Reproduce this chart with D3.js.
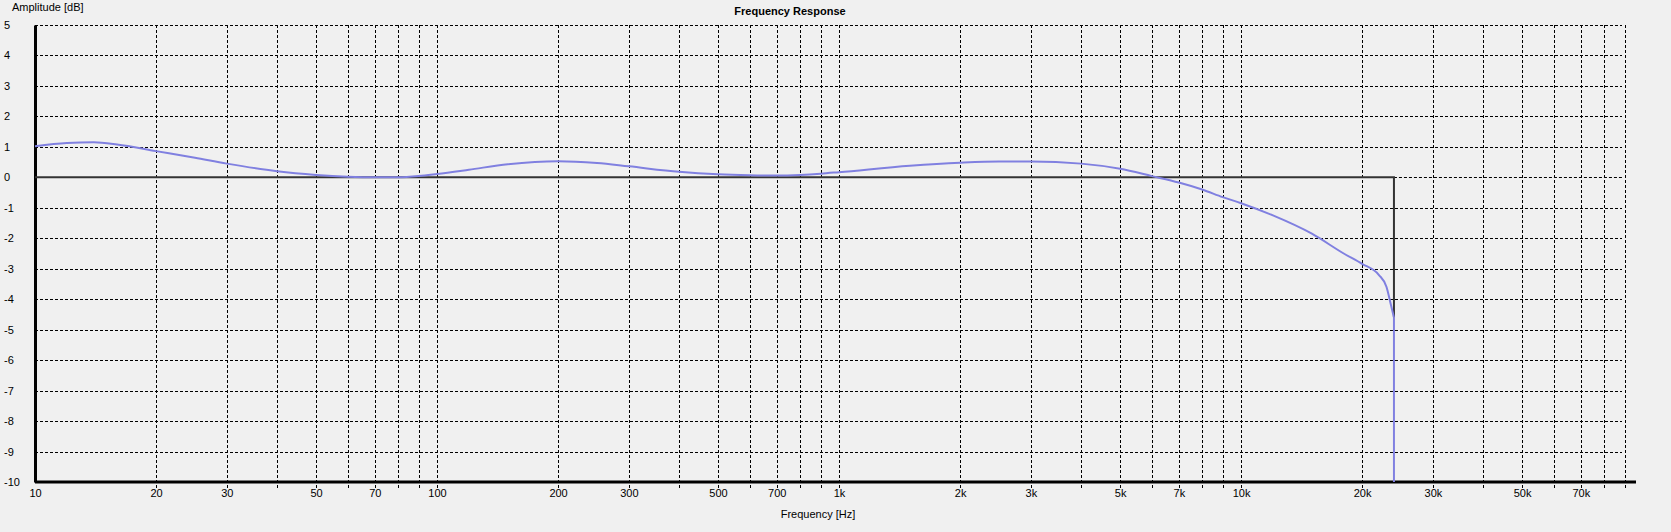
<!DOCTYPE html>
<html>

<head>
  <title>Frequency Response</title>
  <script src="https://d3js.org/d3.v7.min.js"></script>
  <style>
    body { margin: 0; background: #f0f0f0; }
    text { font-family: "Liberation Sans", Arial, sans-serif; font-size: 11px; fill: #000; }
  </style>
</head>

<body>
  <svg width="1671" height="532" id="mainsvg"></svg>
  <script>
    // values
    const freqs = [10, 12, 14, 16, 20, 25, 30, 40, 50, 60, 70, 80, 90, 100, 120, 150, 200, 250, 300, 400, 500, 600, 700, 800, 900,
      1000, 1500, 2000, 2500, 3000, 4000, 5000, 6000, 7000, 8000, 9000, 10000, 12000, 15000, 18000, 20000, 22000, 23000, 23600, 24000];
    const amps = [1.02, 1.13, 1.15, 1.08, 0.86, 0.64, 0.45, 0.2, 0.08, 0.02, 0.0, 0.0, 0.04, 0.11, 0.25, 0.43, 0.53, 0.47, 0.36, 0.18, 0.1, 0.07, 0.06, 0.08, 0.12,
      0.17, 0.38, 0.48, 0.52, 0.52, 0.45, 0.28, 0.04, -0.17, -0.4, -0.65, -0.85, -1.25, -1.85, -2.5, -2.84, -3.2, -3.6, -4.2, -4.6];
    // target line: flat 0 dB up to Nyquist, then drop
    const targetFreqs = [10, 24000, 24000];
    const targetAmps = [0, 0, -4.6];
    const tailFreqs = [24000, 24000];
    const tailAmps = [-4.6, -10];

    const xTicks = [10, 20, 30, 50, 70, 100, 200, 300, 500, 700, 1000, 2000, 3000, 5000, 7000, 10000, 20000, 30000, 50000, 70000];
    const yTicks = [5, 4, 3, 2, 1, 0, -1, -2, -3, -4, -5, -6, -7, -8, -9, -10];

    const svg = d3.select('#mainsvg');
    const width = +svg.attr('width');
    const height = +svg.attr('height');
    const margin = { top: 25, right: 35, bottom: 50, left: 35 };

    const xScale = d3.scaleLog().domain([10, 96000]).range([margin.left, width - margin.right]);
    const yScale = d3.scaleLinear().domain([-10, 5]).range([height - margin.bottom, margin.top]);

    const fmt = f => f >= 1000 ? (f / 1000) + 'k' : f;

    // grid lines at every 1..9 multiple
    const gridFreqs = [];
    for (let d = 10; d <= 10000; d *= 10) {
      for (let m = 1; m <= 9; m++) gridFreqs.push(d * m);
    }
    const grid = svg.append('g').attr('stroke', '#000').attr('stroke-width', 1).attr('stroke-dasharray', '3,2');
    grid.selectAll('.v').data(gridFreqs.filter(f => f > 10)).join('line')
      .attr('x1', d => Math.round(xScale(d)) + 0.5).attr('x2', d => Math.round(xScale(d)) + 0.5)
      .attr('y1', yScale(5)).attr('y2', yScale(-10) + 6);
    grid.selectAll('.h').data(yTicks.filter(v => v !== -10 && v !== 0)).join('line')
      .attr('x1', xScale(10)).attr('x2', 1622)
      .attr('y1', d => Math.round(yScale(d)) + 0.5).attr('y2', d => Math.round(yScale(d)) + 0.5);
    grid.append('line')
      .attr('x1', xScale(24000)).attr('x2', 1622)
      .attr('y1', Math.round(yScale(0)) + 0.5).attr('y2', Math.round(yScale(0)) + 0.5);

    // axes
    const xAxis = d3.axisBottom(xScale).tickValues(xTicks).tickFormat(fmt).tickSize(0).tickPadding(7);
    const xg = svg.append('g').attr('transform', `translate(0,${yScale(-10)})`).call(xAxis);
    xg.select('.domain').attr('stroke', '#000').attr('stroke-width', 3).attr('d', `M${xScale(10)},0H${xScale(96000)}`);
    xg.selectAll('text').style('font-family', '"Liberation Sans", Arial, sans-serif').style('font-size', '11px');

    const yAxis = d3.axisLeft(yScale).tickValues(yTicks).tickSize(0).tickFormat(d => d);
    const yg = svg.append('g').attr('transform', `translate(${margin.left},0)`).call(yAxis);
    yg.select('.domain').attr('stroke', '#000').attr('stroke-width', 3);
    yg.selectAll('text').attr('text-anchor', 'start').attr('x', 4 - margin.left)
      .style('font-family', '"Liberation Sans", Arial, sans-serif').style('font-size', '11px');

    // target (black) line
    const lin = d3.line().x((d, i) => xScale(d[0])).y(d => yScale(d[1]));
    svg.append('path')
      .attr('d', lin(targetFreqs.map((f, i) => [f, targetAmps[i]])))
      .attr('fill', 'none').attr('stroke', '#333').attr('stroke-width', 2);

    // response curve
    const curve = d3.line().x(d => xScale(d[0])).y(d => yScale(d[1])).curve(d3.curveMonotoneX);
    svg.append('path')
      .attr('d', curve(freqs.map((f, i) => [f, amps[i]])))
      .attr('fill', 'none').attr('stroke', '#8080e0').attr('stroke-width', 2);
    svg.append('path')
      .attr('d', lin(tailFreqs.map((f, i) => [f, tailAmps[i]])))
      .attr('fill', 'none').attr('stroke', '#8080e0').attr('stroke-width', 2);

    // titles
    svg.append('text').text('Frequency Response').attr('x', 790).attr('y', 15)
      .attr('text-anchor', 'middle').attr('font-weight', 'bold');
    svg.append('text').text('Amplitude [dB]').attr('x', 12).attr('y', 11);
    svg.append('text').text('Frequency [Hz]').attr('x', 818).attr('y', 518).attr('text-anchor', 'middle');
  </script>
</body>

</html>
